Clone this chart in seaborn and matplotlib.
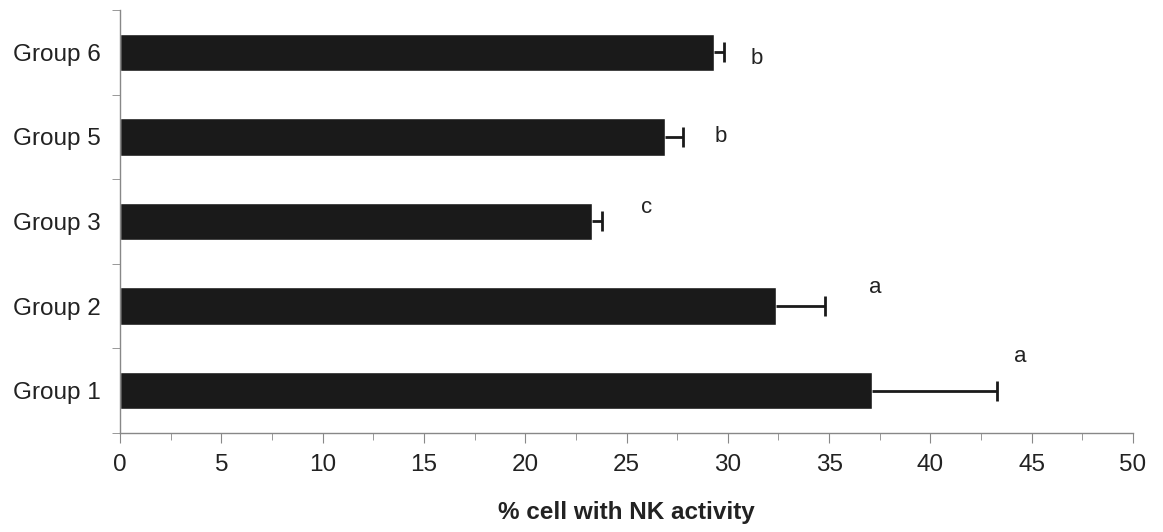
import matplotlib
matplotlib.use("Agg")
import matplotlib.pyplot as plt
from matplotlib.ticker import MultipleLocator, FixedLocator
import pandas as pd
import seaborn as sns

groups = ["Group 6", "Group 5", "Group 3", "Group 2", "Group 1"]
means = [29.3, 26.9, 23.3, 32.4, 37.1]
errs = [0.5, 0.9, 0.5, 2.4, 6.2]
letters = ["b", "b", "c", "a", "a"]
letter_x = [31.45, 29.65, 26.0, 37.3, 44.45]
letter_dy = [0.075, -0.01, -0.17, -0.22, -0.41]

df = pd.DataFrame({"group": groups, "value": means})

sns.set_style("ticks")
plt.rcParams["font.family"] = ["Liberation Sans", "DejaVu Sans"]

fig = plt.figure(figsize=(11.63, 5.32), dpi=100)
ax = fig.add_axes([0.1032, 0.1861, 0.871, 0.7951])

sns.barplot(data=df, x="value", y="group", orient="h", color="#1a1a1a",
            width=0.44, saturation=1, ax=ax)
eb = ax.errorbar(means, range(len(groups)), xerr=[[0] * len(errs), errs],
                 fmt="none", ecolor="#1a1a1a", elinewidth=2, capsize=7, capthick=2)
# hide the caps on the bar side, only the upper error is drawn
eb[1][0].set_visible(False)

for i, (lx, dy, t) in enumerate(zip(letter_x, letter_dy, letters)):
    ax.text(lx, i + dy, t, ha="center", va="center", fontsize=16, color="#222222")

ax.set_xlim(0, 50)
ax.set_ylim(len(groups) - 0.5, -0.5)
ax.xaxis.set_major_locator(MultipleLocator(5))
ax.xaxis.set_minor_locator(MultipleLocator(2.5))
ax.yaxis.set_minor_locator(FixedLocator([i - 0.5 for i in range(len(groups) + 1)]))

sns.despine(ax=ax)
for s in ["left", "bottom"]:
    ax.spines[s].set_color("#888888")
    ax.spines[s].set_linewidth(1)

ax.tick_params(axis="x", which="major", length=7, color="#888888", labelsize=17.5,
               pad=8, labelcolor="#222222")
ax.tick_params(axis="x", which="minor", length=5, color="#888888")
ax.tick_params(axis="y", which="major", length=0, labelsize=17.5, pad=14,
               labelcolor="#222222")
ax.tick_params(axis="y", which="minor", length=6, color="#888888")

ax.set_ylabel("")
ax.set_xlabel("% cell with NK activity", fontsize=17.5, fontweight="bold",
              labelpad=18, color="#222222")

fig.savefig("out.png", dpi=100)
